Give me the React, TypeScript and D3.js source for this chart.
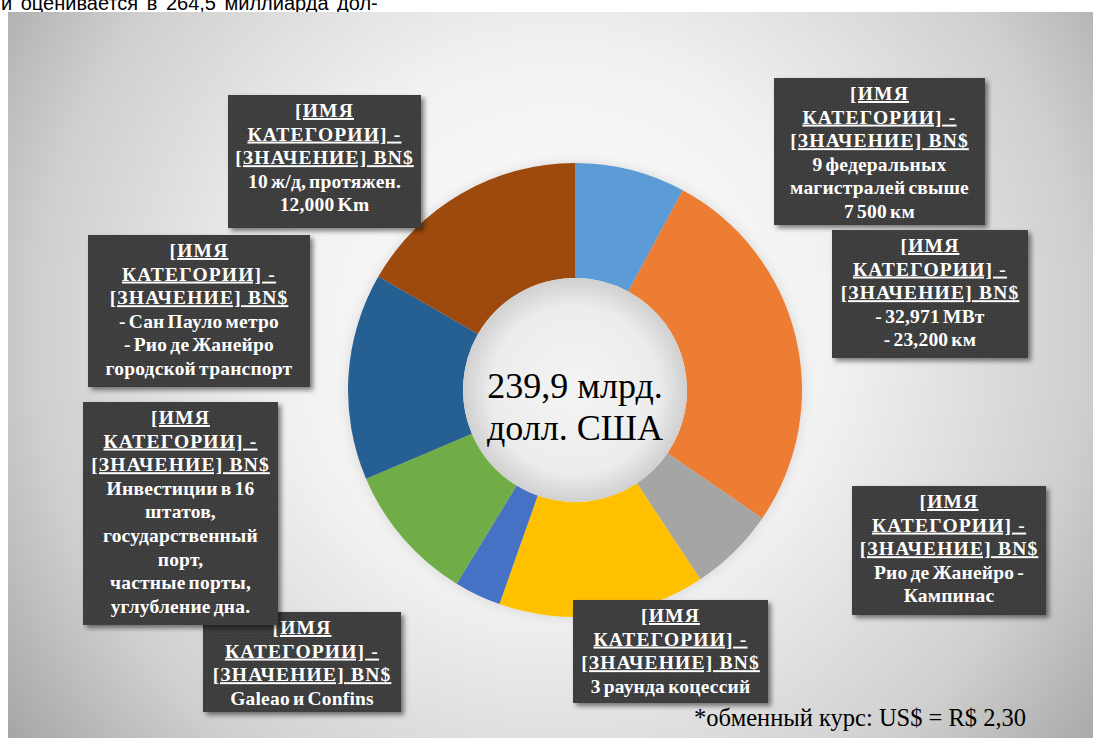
import React from "react";
import * as d3 from "d3";

const categories = [
  "Автодороги",
  "Энергетика",
  "Рио–Кампинас",
  "Концессии",
  "Аэропорты",
  "Порты",
  "Городской транспорт",
  "Железные дороги",
];
const values = [18.9, 64.0, 14.7, 35.3, 8.0, 23.7, 35.3, 40.0];
const colors = ["#5B9BD5", "#ED7D31", "#A5A5A5", "#FFC000", "#4472C4", "#70AD47", "#255E91", "#9E480E"];
const headerLines = ["[ИМЯ", "КАТЕГОРИИ] -", "[ЗНАЧЕНИЕ] BN$"];
const descriptions = [
  ["9 федеральных", "магистралей свыше", "7 500 км"],
  ["- 32,971 МВт", "- 23,200 км"],
  ["Рио де Жанейро -", "Кампинас"],
  ["3 раунда коцессий"],
  ["Galeao и Confins"],
  ["Инвестиции в 16", "штатов,", "государственный", "порт,", "частные порты,", "углубление дна."],
  ["- Сан Пауло метро", "- Рио де Жанейро", "городской транспорт"],
  ["10 ж/д,  протяжен.", "12,000 Km"],
];
const centerLines = ["239,9 млрд.", "долл. США"];
const footnote = "*обменный курс: US$ = R$ 2,30";
const topText = "и оценивается в 264,5 миллиарда дол-";

// layout of label boxes (x, y, w, h)
const boxLayout = [
  [774, 78, 211, 147],
  [832, 230, 196, 128],
  [852, 486, 194, 129],
  [573, 600, 195, 103],
  [203, 612, 198, 100],
  [83, 402, 195, 223],
  [88, 235, 222, 152],
  [228, 95, 193, 133],
];

export default function App() {
  const W = 1093, H = 738;
  const cx = 575, cy = 390, rOut = 227, rIn = 112;
  const pie = d3.pie<number>().sort(null).value((d) => d)(values);
  const arc = d3.arc<d3.PieArcDatum<number>>().innerRadius(rIn).outerRadius(rOut);
  const serif = "'Liberation Serif', 'Times New Roman', serif";
  const lineH = 23.6;
  return (
    <svg width={W} height={H} style={{ position: "absolute", left: 0, top: 0, background: "#fff" }}>
      <defs>
        <radialGradient id="bg" cx="560" cy="330" r="700" gradientUnits="userSpaceOnUse">
          <stop offset="0" stopColor="#ffffff" />
          <stop offset="0.4" stopColor="#f1f1f1" />
          <stop offset="0.75" stopColor="#cfcfcf" />
          <stop offset="1" stopColor="#a2a2a2" />
        </radialGradient>
        <radialGradient id="hole" cx={cx} cy={cy} r={rIn} gradientUnits="userSpaceOnUse">
          <stop offset="0" stopColor="#f4f4f4" />
          <stop offset="0.75" stopColor="#ececec" />
          <stop offset="1" stopColor="#d0d0d0" />
        </radialGradient>
        <filter id="shadow" x="-10%" y="-10%" width="130%" height="130%">
          <feDropShadow dx="3" dy="3" stdDeviation="2.5" floodColor="#000" floodOpacity="0.5" />
        </filter>
        <filter id="glow" x="-20%" y="-20%" width="140%" height="140%">
          <feDropShadow dx="0" dy="0" stdDeviation="6" floodColor="#000" floodOpacity="0.12" />
        </filter>
        <pattern id="tex" width="3" height="3" patternUnits="userSpaceOnUse">
          <rect width="3" height="3" fill="#3c3c3c" />
          <rect width="1" height="1" fill="#474747" />
        </pattern>
      </defs>
      <text x={1} y={10} fontFamily="'Liberation Sans', Arial, sans-serif" fontSize={20} wordSpacing={3} fill="#000">
        {topText}
      </text>
      <rect x={8} y={12} width={W - 8} height={H - 12} fill="url(#bg)" />
      <g transform={`translate(${cx},${cy})`} filter="url(#glow)">
        {pie.map((d, i) => (
          <path key={categories[i]} d={arc(d) || ""} fill={colors[i]} />
        ))}
      </g>
      <circle cx={cx} cy={cy} r={rIn} fill="url(#hole)" />
      {centerLines.map((t, i) => (
        <text key={t} x={cx} y={398 + i * 42} textAnchor="middle" fontFamily={serif} fontSize={36} fill="#000">
          {t}
        </text>
      ))}
      {boxLayout.map(([x, y, w, h], i) => {
        const lines = [...headerLines, ...descriptions[i]];
        return (
          <g key={"b" + i}>
            <rect x={x} y={y} width={w} height={h} fill="url(#tex)" filter="url(#shadow)" />
            {lines.map((t, j) => (
              <text
                key={j}
                x={x + w / 2}
                y={y + 22 + j * lineH}
                textAnchor="middle"
                fontFamily={serif}
                fontWeight="bold"
                fontSize={19.5}
                letterSpacing={j < 3 ? 1.2 : 0.2}
                wordSpacing={j < 3 ? 0 : -2}
                fill="#ffffff"
                textDecoration={j < 3 ? "underline" : undefined}
              >
                {t}
              </text>
            ))}
          </g>
        );
      })}
      <text x={694} y={726} fontFamily={serif} fontSize={24.5} fill="#000">
        {footnote}
      </text>
    </svg>
  );
}
